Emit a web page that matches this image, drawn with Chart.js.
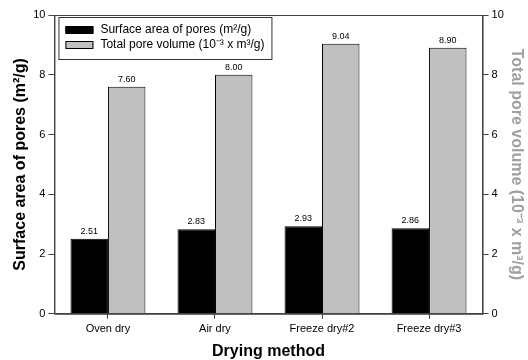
<!DOCTYPE html>
<html>
<head>
<meta charset="utf-8">
<script src="https://cdn.jsdelivr.net/npm/chart.js@4"></script>
<style>
  html, body { margin: 0; padding: 0; background: #fff; }
  #wrap { width: 528px; height: 360px; }
</style>
</head>
<body>
<div id="wrap"><canvas id="chart"></canvas></div>
<script>
// data
const categories = ['Oven dry', 'Air dry', 'Freeze dry#2', 'Freeze dry#3'];
const surfaceArea = [2.51, 2.83, 2.93, 2.86];
const poreVolume = [7.60, 8.00, 9.04, 8.90];
const seriesLabels = ['Surface area of pores (m\u00B2/g)', 'Total pore volume (10\u207B\u00B3 x m\u00B3/g)'];

const FONT = "Arial, 'Liberation Sans', sans-serif";

// frame + value labels + boxed legend inside plot
const decor = {
    id: 'decor',
    afterDatasetsDraw(chart) {
        const { ctx, chartArea: a } = chart;
        ctx.save();
        ctx.strokeStyle = '#444';
        ctx.lineWidth = 1;
        ctx.strokeRect(a.left + 0.5, a.top + 0.5, a.right - a.left, a.bottom - a.top);

        // value labels
        ctx.fillStyle = '#000';
        ctx.font = '9px ' + FONT;
        ctx.textAlign = 'center';
        ctx.textBaseline = 'bottom';
        chart.data.datasets.forEach((ds, i) => {
            chart.getDatasetMeta(i).data.forEach((bar, j) => {
                ctx.fillText(ds.data[j].toFixed(2), bar.x, bar.y - 3);
            });
        });

        // legend
        const lx = a.left + 4, ly = a.top + 2, lw = 213, lh = 42;
        ctx.fillStyle = '#fff';
        ctx.fillRect(lx, ly, lw, lh);
        ctx.strokeStyle = '#333';
        ctx.strokeRect(lx + 0.5, ly + 0.5, lw, lh);
        ctx.font = '12px ' + FONT;
        ctx.textAlign = 'left';
        ctx.textBaseline = 'middle';
        chart.data.datasets.forEach((ds, i) => {
            const y = ly + 13 + i * 15;
            ctx.fillStyle = ds.backgroundColor;
            ctx.fillRect(lx + 7, y - 3.5, 28, 7);
            ctx.strokeStyle = '#000';
            ctx.strokeRect(lx + 7.5, y - 3.5, 27, 7);
            ctx.fillStyle = '#000';
            ctx.fillText(ds.label, lx + 42, y);
        });
        ctx.restore();
    }
};

const axisCommon = {
    min: 0,
    max: 10,
    ticks: { stepSize: 2, color: '#000', font: { family: FONT, size: 11 }, padding: 3 },
    grid: { drawOnChartArea: false, tickLength: 6, color: '#444' },
    border: { color: '#444' }
};

new Chart(document.getElementById('chart'), {
    type: 'bar',
    data: {
        labels: categories,
        datasets: [
            { label: seriesLabels[0], data: surfaceArea, yAxisID: 'y', backgroundColor: '#000000', borderColor: '#000', borderWidth: 1 },
            { label: seriesLabels[1], data: poreVolume, yAxisID: 'y1', backgroundColor: '#c0c0c0', borderColor: '#000', borderWidth: 1 }
        ]
    },
    options: {
        responsive: true,
        maintainAspectRatio: false,
        animation: false,
        layout: { padding: { top: 15, left: 8, right: 0, bottom: 0 } },
        datasets: { bar: { categoryPercentage: 0.7, barPercentage: 1.0 } },
        plugins: { legend: { display: false }, tooltip: { enabled: false } },
        scales: {
            x: {
                ticks: { color: '#000', font: { family: FONT, size: 11 }, padding: 4 },
                grid: { drawOnChartArea: false, tickLength: 5, color: '#444', offset: false },
                border: { color: '#444' },
                title: { display: true, text: 'Drying method', color: '#000', font: { family: FONT, size: 16, weight: 'bold', lineHeight: 1.0 }, padding: { top: 4, bottom: 0 } }
            },
            y: {
                ...axisCommon,
                position: 'left',
                title: { display: true, text: 'Surface area of pores (m\u00B2/g)', color: '#000', font: { family: FONT, size: 16, weight: 'bold' }, padding: { top: 3, bottom: 0 } }
            },
            y1: {
                ...axisCommon,
                position: 'right',
                title: { display: true, text: 'Total pore volume (10\u207B\u00B3 x m\u00B3/g)', color: '#a0a0a0', font: { family: FONT, size: 16, weight: 'bold' }, padding: { top: 2, bottom: 0 } }
            }
        }
    },
    plugins: [decor]
});
</script>
</body>
</html>
